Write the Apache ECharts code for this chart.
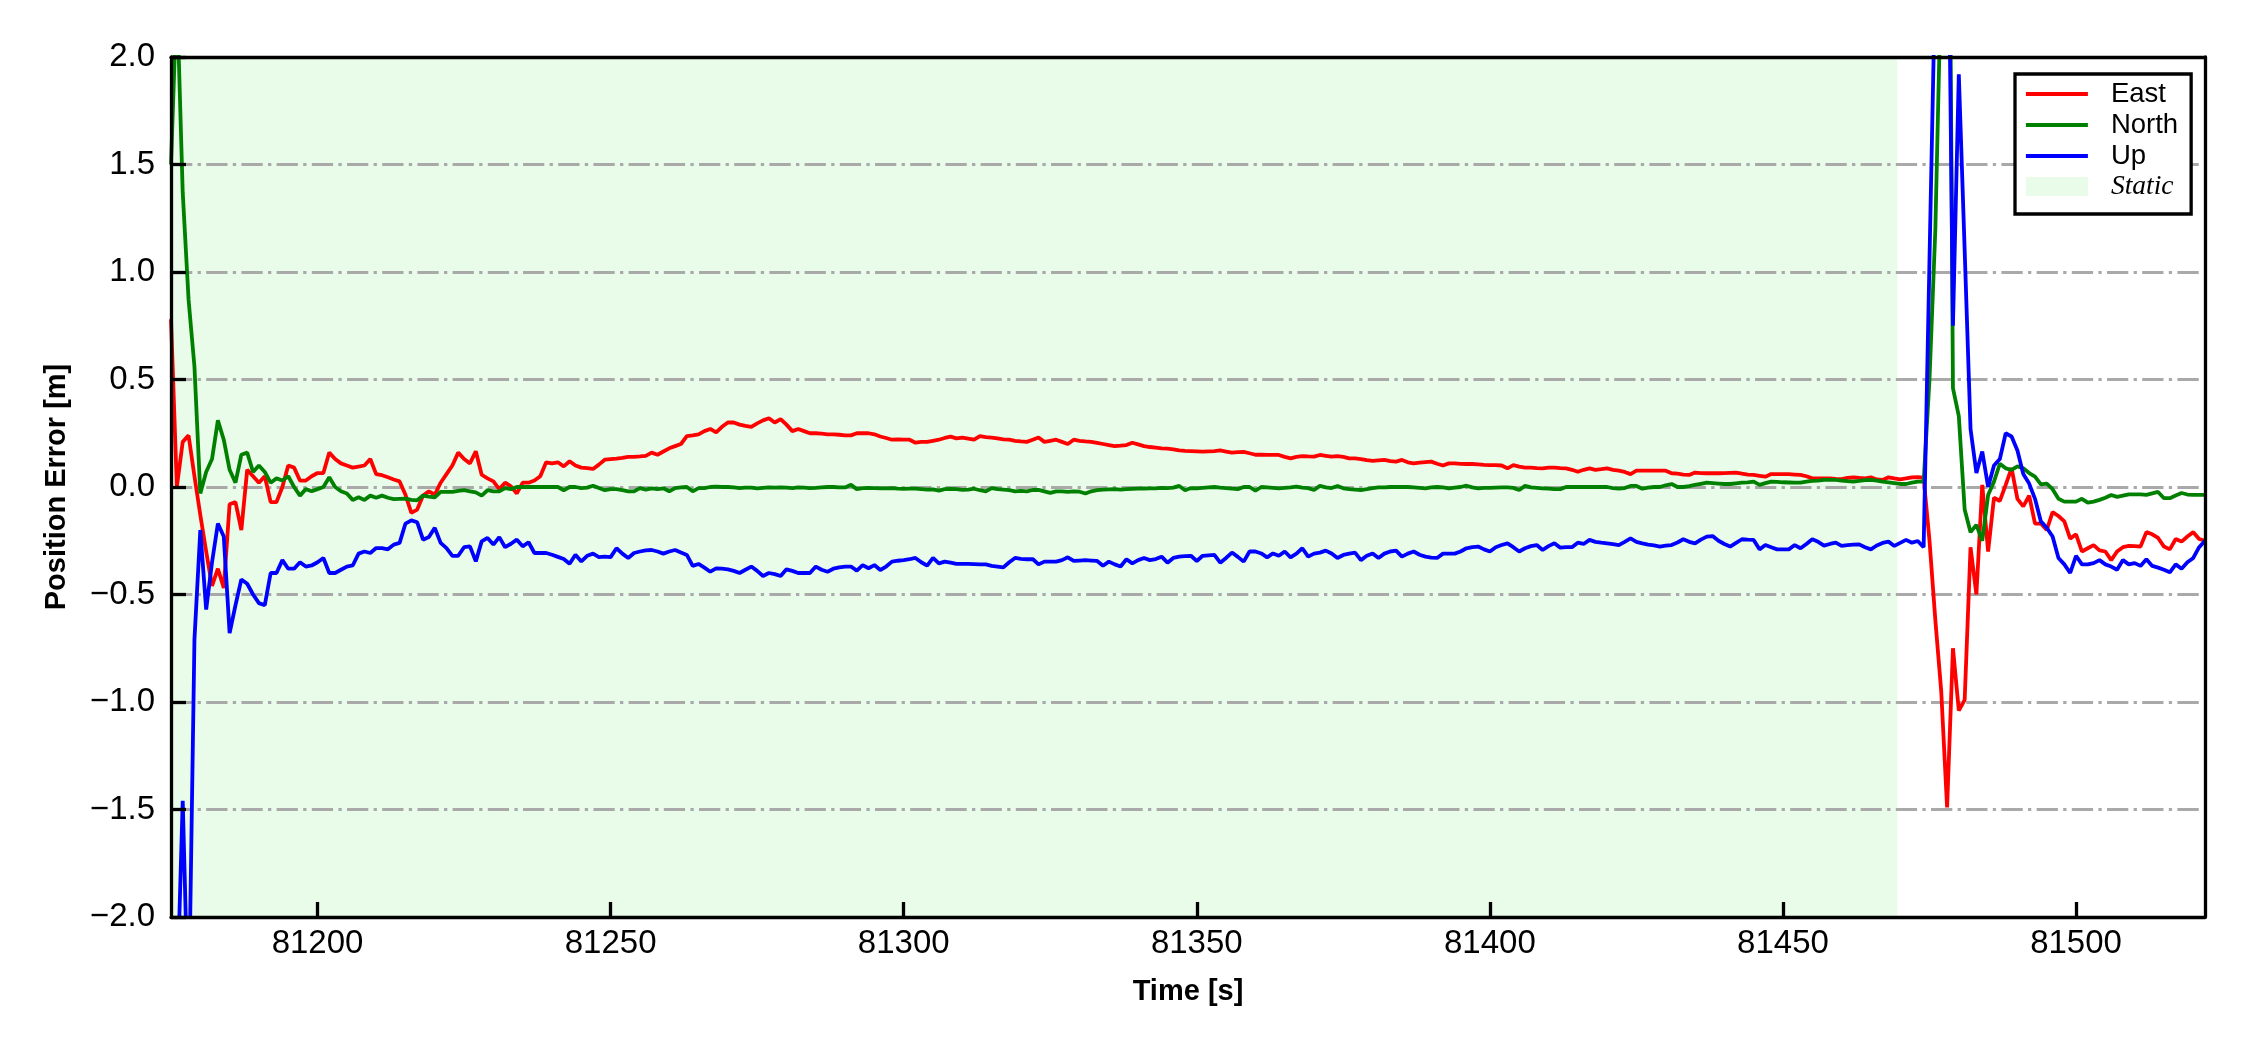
<!DOCTYPE html>
<html>
<head>
<meta charset="utf-8">
<script src="https://cdn.jsdelivr.net/npm/echarts@6/dist/echarts.min.js"></script>
<style>
  html, body { margin: 0; padding: 0; background: #fff; }
  #chart { width: 2250px; height: 1050px; }
</style>
</head>
<body>
<div id="chart"></div>
<script>
// ---- data (1 Hz samples starting at T_START) ----
const T_START = 81175;
const STATIC_END = 81469.5;
const X_TICKS = [81200, 81250, 81300, 81350, 81400, 81450, 81500];
const SERIES_NAMES = ['East', 'North', 'Up'];

const east = [
  0.78, 0.00, 0.21, 0.24, 0.05, -0.13, -0.30, -0.46, -0.38, -0.47,
  -0.08, -0.07, -0.20, 0.08, 0.05, 0.02, 0.05, -0.07, -0.07, 0.00,
  0.10, 0.09, 0.03, 0.03, 0.05, 0.065, 0.065, 0.16, 0.13, 0.11,
  0.10, 0.09, 0.095, 0.10, 0.13, 0.06, 0.055, 0.045, 0.035, 0.026,
  -0.036, -0.12, -0.105, -0.04, -0.02, -0.036, 0.02, 0.06, 0.10, 0.16,
  0.13, 0.11, 0.166, 0.057, 0.04, 0.026, -0.01, 0.02, 0.003, -0.03,
  0.02, 0.02, 0.03, 0.05, 0.115, 0.11, 0.115, 0.096, 0.12, 0.10,
  0.09, 0.088, 0.084, 0.104, 0.127, 0.13, 0.132, 0.135, 0.14, 0.14,
  0.142, 0.145, 0.16, 0.15, 0.165, 0.18, 0.19, 0.20, 0.237, 0.24,
  0.245, 0.26, 0.27, 0.254, 0.28, 0.30, 0.30, 0.29, 0.284, 0.28,
  0.296, 0.31, 0.32, 0.30, 0.316, 0.29, 0.26, 0.27, 0.26, 0.25,
  0.25, 0.248, 0.245, 0.245, 0.243, 0.24, 0.24, 0.25, 0.25, 0.25,
  0.245, 0.235, 0.228, 0.22, 0.222, 0.22, 0.22, 0.206, 0.21, 0.21,
  0.215, 0.22, 0.228, 0.234, 0.226, 0.23, 0.225, 0.22, 0.237, 0.232,
  0.23, 0.226, 0.222, 0.22, 0.215, 0.212, 0.21, 0.22, 0.23, 0.21,
  0.215, 0.22, 0.21, 0.20, 0.22, 0.215, 0.212, 0.21, 0.205, 0.20,
  0.195, 0.19, 0.192, 0.195, 0.206, 0.198, 0.19, 0.186, 0.183, 0.18,
  0.178, 0.175, 0.17, 0.168, 0.167, 0.166, 0.165, 0.166, 0.167, 0.17,
  0.165, 0.16, 0.162, 0.163, 0.157, 0.15, 0.15, 0.149, 0.149, 0.149,
  0.14, 0.133, 0.14, 0.144, 0.142, 0.141, 0.149, 0.145, 0.141, 0.144,
  0.14, 0.133, 0.133, 0.13, 0.125, 0.122, 0.124, 0.126, 0.12, 0.118,
  0.126, 0.115, 0.11, 0.113, 0.116, 0.118, 0.108, 0.10, 0.11, 0.11,
  0.108, 0.107, 0.107, 0.105, 0.103, 0.102, 0.102, 0.10, 0.087, 0.102,
  0.095, 0.09, 0.09, 0.088, 0.087, 0.09, 0.09, 0.088, 0.087, 0.08,
  0.071, 0.08, 0.087, 0.08, 0.083, 0.087, 0.08, 0.076, 0.07, 0.06,
  0.076, 0.076, 0.076, 0.076, 0.076, 0.076, 0.064, 0.062, 0.058, 0.056,
  0.067, 0.065, 0.064, 0.064, 0.064, 0.065, 0.066, 0.067, 0.062, 0.058,
  0.056, 0.052, 0.048, 0.06, 0.06, 0.06, 0.06, 0.058, 0.056, 0.05,
  0.04, 0.04, 0.04, 0.04, 0.038, 0.037, 0.042, 0.045, 0.042, 0.04,
  0.045, 0.035, 0.033, 0.045, 0.04, 0.036, 0.04, 0.045, 0.046, 0.043,
  -0.25, -0.62, -0.95, -1.49, -0.75, -1.04, -0.99, -0.28, -0.5, 0.01,
  -0.3, -0.05, -0.065, 0.01, 0.088, -0.055, -0.09, -0.04, -0.17, -0.17,
  -0.2, -0.117, -0.135, -0.16, -0.24, -0.22, -0.3, -0.285, -0.27, -0.295,
  -0.3, -0.34, -0.3, -0.28, -0.274, -0.275, -0.277, -0.21, -0.22, -0.237,
  -0.277, -0.29, -0.242, -0.254, -0.23, -0.21, -0.242, -0.25
];

const north = [
  1.50, 2.30, 1.37, 0.87, 0.56, -0.03, 0.07, 0.13, 0.31, 0.22,
  0.08, 0.02, 0.15, 0.16, 0.07, 0.10, 0.07, 0.02, 0.04, 0.03,
  0.05, 0.00, -0.04, -0.01, -0.02, -0.01, 0.00, 0.045, 0.00, -0.02,
  -0.03, -0.06, -0.048, -0.06, -0.04, -0.05, -0.04, -0.05, -0.056, -0.055,
  -0.054, -0.06, -0.062, -0.04, -0.045, -0.048, -0.023, -0.023, -0.023, -0.018,
  -0.015, -0.02, -0.025, -0.04, -0.015, -0.02, -0.02, -0.005, -0.01, 0.0,
  0.0, 0.0, 0.0, 0.0, 0.0, 0.0, 0.0, -0.015, 0.0, 0.0,
  -0.005, -0.003, 0.006, -0.005, -0.015, -0.01, -0.01, -0.015, -0.02, -0.02,
  -0.005, -0.012, -0.006, -0.01, -0.006, -0.02, -0.005, -0.002, 0.0, -0.02,
  -0.005, -0.005, 0.0, 0.002, 0.0, 0.0, -0.002, -0.005, -0.003, -0.003,
  -0.006, -0.004, -0.002, -0.003, -0.002, -0.003, -0.005, -0.002, -0.003, -0.005,
  -0.004, -0.002, 0.0, 0.0, -0.002, -0.002, 0.01, -0.01, -0.005, -0.004,
  -0.005, -0.006, -0.006, -0.005, -0.008, -0.009, -0.008, -0.008, -0.01, -0.012,
  -0.011, -0.017, -0.01, -0.009, -0.01, -0.013, -0.012, -0.008, -0.015, -0.02,
  -0.005, -0.01, -0.012, -0.015, -0.02, -0.018, -0.02, -0.014, -0.013, -0.02,
  -0.027, -0.02, -0.02, -0.023, -0.02, -0.022, -0.03, -0.02, -0.015, -0.012,
  -0.011, -0.01, -0.012, -0.01, -0.009, -0.008, -0.007, -0.006, -0.006, -0.004,
  -0.005, -0.003, 0.005, -0.015, -0.005, -0.006, -0.004, -0.002, 0.0, -0.003,
  -0.005, -0.008, -0.01, 0.0, 0.0, -0.017, 0.0, -0.002, -0.004, -0.006,
  -0.004, -0.002, 0.002, -0.003, -0.005, -0.014, 0.005, -0.002, -0.005, 0.005,
  -0.006, -0.01, -0.012, -0.014, -0.01, -0.005, -0.002, -0.002, 0.0, 0.0,
  0.0, 0.0, -0.002, -0.004, -0.006, -0.002, 0.0, -0.002, -0.006, -0.003,
  0.0, 0.006, -0.002, -0.006, -0.004, -0.004, -0.003, -0.002, -0.002, -0.004,
  -0.014, 0.005, -0.002, -0.004, -0.006, -0.008, -0.01, -0.01, 0.0, 0.0,
  0.0, 0.0, 0.0, 0.0, 0.0, 0.0, -0.005, -0.008, -0.005, 0.005,
  0.005, -0.008, -0.003, 0.0, 0.0, 0.008, 0.014, 0.0, 0.0, 0.004,
  0.01, 0.015, 0.02, 0.018, 0.016, 0.014, 0.014, 0.017, 0.02, 0.022,
  0.025, 0.01, 0.018, 0.025, 0.024, 0.022, 0.021, 0.02, 0.02, 0.025,
  0.028, 0.03, 0.033, 0.033, 0.033, 0.03, 0.027, 0.025, 0.028, 0.032,
  0.033, 0.03, 0.025, 0.022, 0.018, 0.014, 0.014, 0.02, 0.025, 0.025,
  0.5, 1.2, 2.4, 4.5, 0.46, 0.33, -0.105, -0.21, -0.176, -0.25,
  -0.037, 0.025, 0.108, 0.087, 0.08, 0.096, 0.087, 0.065, 0.048, 0.012,
  0.016, -0.01, -0.055, -0.068, -0.068, -0.068, -0.055, -0.073, -0.068, -0.06,
  -0.05, -0.037, -0.046, -0.04, -0.034, -0.034, -0.034, -0.037, -0.03, -0.023,
  -0.052, -0.052, -0.04, -0.028, -0.035, -0.037, -0.037, -0.037
];

const up = [
  -3.0, -2.4, -1.46, -2.5, -0.71, -0.2, -0.57, -0.35, -0.17, -0.23,
  -0.68, -0.55, -0.43, -0.45, -0.5, -0.54, -0.55, -0.4, -0.4, -0.34,
  -0.38, -0.38, -0.35, -0.37, -0.365, -0.35, -0.33, -0.4, -0.4, -0.385,
  -0.37, -0.365, -0.31, -0.3, -0.307, -0.284, -0.284, -0.29, -0.268, -0.26,
  -0.17, -0.155, -0.164, -0.245, -0.233, -0.19, -0.26, -0.284, -0.32, -0.32,
  -0.28, -0.276, -0.346, -0.253, -0.237, -0.268, -0.233, -0.28, -0.264, -0.245,
  -0.276, -0.257, -0.307, -0.307, -0.307, -0.315, -0.325, -0.335, -0.357, -0.315,
  -0.346, -0.32, -0.31, -0.326, -0.324, -0.326, -0.285, -0.31, -0.33, -0.307,
  -0.3, -0.295, -0.293, -0.3, -0.31, -0.3, -0.293, -0.305, -0.316, -0.367,
  -0.358, -0.375, -0.394, -0.378, -0.38, -0.383, -0.39, -0.4, -0.385, -0.37,
  -0.39, -0.414, -0.4, -0.405, -0.414, -0.383, -0.39, -0.4, -0.4, -0.4,
  -0.37, -0.385, -0.394, -0.38, -0.374, -0.37, -0.37, -0.389, -0.363, -0.378,
  -0.363, -0.386, -0.37, -0.347, -0.343, -0.34, -0.336, -0.33, -0.35, -0.366,
  -0.33, -0.355, -0.347, -0.352, -0.358, -0.358, -0.358, -0.359, -0.36, -0.36,
  -0.367, -0.37, -0.374, -0.35, -0.33, -0.334, -0.336, -0.335, -0.36, -0.347,
  -0.347, -0.347, -0.34, -0.327, -0.344, -0.342, -0.34, -0.342, -0.344, -0.366,
  -0.347, -0.36, -0.37, -0.336, -0.355, -0.34, -0.33, -0.34, -0.335, -0.324,
  -0.352, -0.33, -0.324, -0.322, -0.32, -0.344, -0.32, -0.318, -0.316, -0.352,
  -0.33, -0.305, -0.325, -0.347, -0.3, -0.3, -0.309, -0.327, -0.309, -0.32,
  -0.3, -0.327, -0.31, -0.285, -0.324, -0.31, -0.305, -0.296, -0.309, -0.33,
  -0.316, -0.31, -0.305, -0.34, -0.32, -0.309, -0.33, -0.31, -0.3, -0.296,
  -0.324, -0.31, -0.3, -0.315, -0.324, -0.328, -0.33, -0.31, -0.31, -0.31,
  -0.3, -0.285, -0.28, -0.277, -0.29, -0.3, -0.28, -0.27, -0.262, -0.28,
  -0.3, -0.285, -0.275, -0.27, -0.293, -0.275, -0.262, -0.282, -0.28, -0.28,
  -0.259, -0.265, -0.246, -0.255, -0.259, -0.262, -0.266, -0.27, -0.255, -0.239,
  -0.255, -0.262, -0.268, -0.272, -0.277, -0.273, -0.27, -0.258, -0.243, -0.255,
  -0.262, -0.245, -0.231, -0.228, -0.25, -0.265, -0.277, -0.26, -0.243, -0.245,
  -0.246, -0.29, -0.27, -0.28, -0.29, -0.29, -0.29, -0.27, -0.285, -0.265,
  -0.243, -0.255, -0.273, -0.265, -0.259, -0.274, -0.27, -0.268, -0.267, -0.28,
  -0.29, -0.272, -0.26, -0.254, -0.274, -0.26, -0.246, -0.259, -0.251, -0.28,
  1.06, 2.4, 4.0, 3.25, 0.75, 1.92, 1.1, 0.27, 0.065, 0.165,
  0.0, 0.1, 0.13, 0.25, 0.235, 0.17, 0.06, 0.016, -0.055, -0.16,
  -0.19, -0.23, -0.33, -0.36, -0.4, -0.32, -0.36, -0.36, -0.354, -0.34,
  -0.36, -0.37, -0.385, -0.34, -0.36, -0.354, -0.367, -0.336, -0.367, -0.375,
  -0.385, -0.397, -0.36, -0.38, -0.35, -0.33, -0.28, -0.25
];

// ---- build chart ----
const time = east.map((_, i) => T_START + i);
const pairs = arr => arr.map((v, i) => [time[i], v]);

const SANS = '"Liberation Sans", Arial, Helvetica, sans-serif';
const SERIF = '"Liberation Serif", "Times New Roman", serif';
const fmtY = v => (v < 0 ? '\u2212' : '') + Math.abs(v).toFixed(1);
const fmtX = v => String(Math.round(v));

const chart = echarts.init(document.getElementById('chart'), null, { renderer: 'canvas' });

const axisLineStyle = { color: '#000', width: 3.3 };

const option = {
  animation: false,
  backgroundColor: '#ffffff',
  textStyle: { fontFamily: SANS },
  grid: { left: 171, right: 45, top: 57, bottom: 133, containLabel: false, outerBoundsMode: 'none' },
  xAxis: [
    {
      type: 'value', min: 81175, max: 81522, position: 'bottom', z: 10,
      axisLine: { show: true, onZero: false, lineStyle: axisLineStyle },
      axisTick: { show: true, inside: true, length: 15, customValues: X_TICKS, lineStyle: { color: '#000', width: 3.3 } },
      axisLabel: { show: true, customValues: X_TICKS, formatter: fmtX, margin: 10, fontSize: 33, color: '#000', fontFamily: SANS },
      splitLine: { show: false },
      name: 'Time [s]', nameLocation: 'middle', nameGap: 60,
      nameTextStyle: { fontSize: 29, fontWeight: 'bold', color: '#000', fontFamily: SANS }
    },
    {
      type: 'value', min: 81175, max: 81522, position: 'top', z: 10,
      axisLine: { show: true, onZero: false, lineStyle: axisLineStyle },
      axisTick: { show: false }, axisLabel: { show: false }, splitLine: { show: false }
    }
  ],
  yAxis: [
    {
      type: 'value', min: -2, max: 2, interval: 0.5, position: 'left', z: 10,
      axisLine: { show: true, onZero: false, lineStyle: axisLineStyle },
      axisTick: { show: true, inside: true, length: 15, lineStyle: { color: '#000', width: 3.3 } },
      axisLabel: { show: true, margin: 16, fontSize: 33, color: '#000', fontFamily: SANS, formatter: fmtY },
      splitLine: { show: false },
      name: 'Position Error [m]', nameLocation: 'middle', nameGap: 100, nameRotate: 90,
      nameTextStyle: { fontSize: 29, fontWeight: 'bold', color: '#000', fontFamily: SANS }
    },
    {
      type: 'value', min: -2, max: 2, interval: 0.5, position: 'right', z: 10,
      axisLine: { show: true, onZero: false, lineStyle: axisLineStyle },
      axisTick: { show: false }, axisLabel: { show: false }, splitLine: { show: false }
    },
    {
      type: 'value', min: -2, max: 2, interval: 0.5, position: 'left', z: 1.5,
      axisLine: { show: false }, axisTick: { show: false }, axisLabel: { show: false },
      splitLine: { show: true, lineStyle: { color: '#a9a9a9', width: 3, type: [21.3, 5.3, 3.3, 5.3] } }
    }
  ],
  legend: {
    orient: 'vertical', left: 2015, top: 74,
    data: [
      { name: 'East' }, { name: 'North' }, { name: 'Up' },
      { name: 'Static', icon: 'rect', itemStyle: { color: '#e9fce9', opacity: 1, borderWidth: 0 },
        textStyle: { fontStyle: 'italic', fontFamily: SERIF, fontSize: 27.5, color: '#000', padding: [0, 0, 0, 18] } }
    ],
    itemWidth: 62, itemHeight: 19, itemGap: 3,
    padding: [6, 13, 14, 9],
    borderColor: '#000', borderWidth: 3.3, borderRadius: 0, backgroundColor: '#fff',
    itemStyle: { opacity: 0, borderWidth: 0 },
    lineStyle: { width: 3.8 },
    textStyle: { fontSize: 27.5, color: '#000', fontFamily: SANS, padding: [0, 0, 0, 18] },
    selectedMode: false
  },
  series: [
    {
      name: 'Static', type: 'line', data: [], z: 1, symbol: 'none',
      itemStyle: { color: '#e9fce9' }, lineStyle: { color: '#e9fce9' },
      markArea: { silent: true, itemStyle: { color: '#e9fce9' }, data: [[{ xAxis: T_START }, { xAxis: STATIC_END }]] }
    },
    { name: SERIES_NAMES[0], type: 'line', data: pairs(east), symbol: 'none', showSymbol: false, z: 2, clip: true,
      itemStyle: { color: '#ff0000' }, lineStyle: { color: '#ff0000', width: 3.8 } },
    { name: SERIES_NAMES[1], type: 'line', data: pairs(north), symbol: 'none', showSymbol: false, z: 2, clip: true,
      itemStyle: { color: '#008000' }, lineStyle: { color: '#008000', width: 3.8 } },
    { name: SERIES_NAMES[2], type: 'line', data: pairs(up), symbol: 'none', showSymbol: false, z: 2, clip: true,
      itemStyle: { color: '#0000ff' }, lineStyle: { color: '#0000ff', width: 3.8 } }
  ]
};

chart.setOption(option);
</script>
</body>
</html>
